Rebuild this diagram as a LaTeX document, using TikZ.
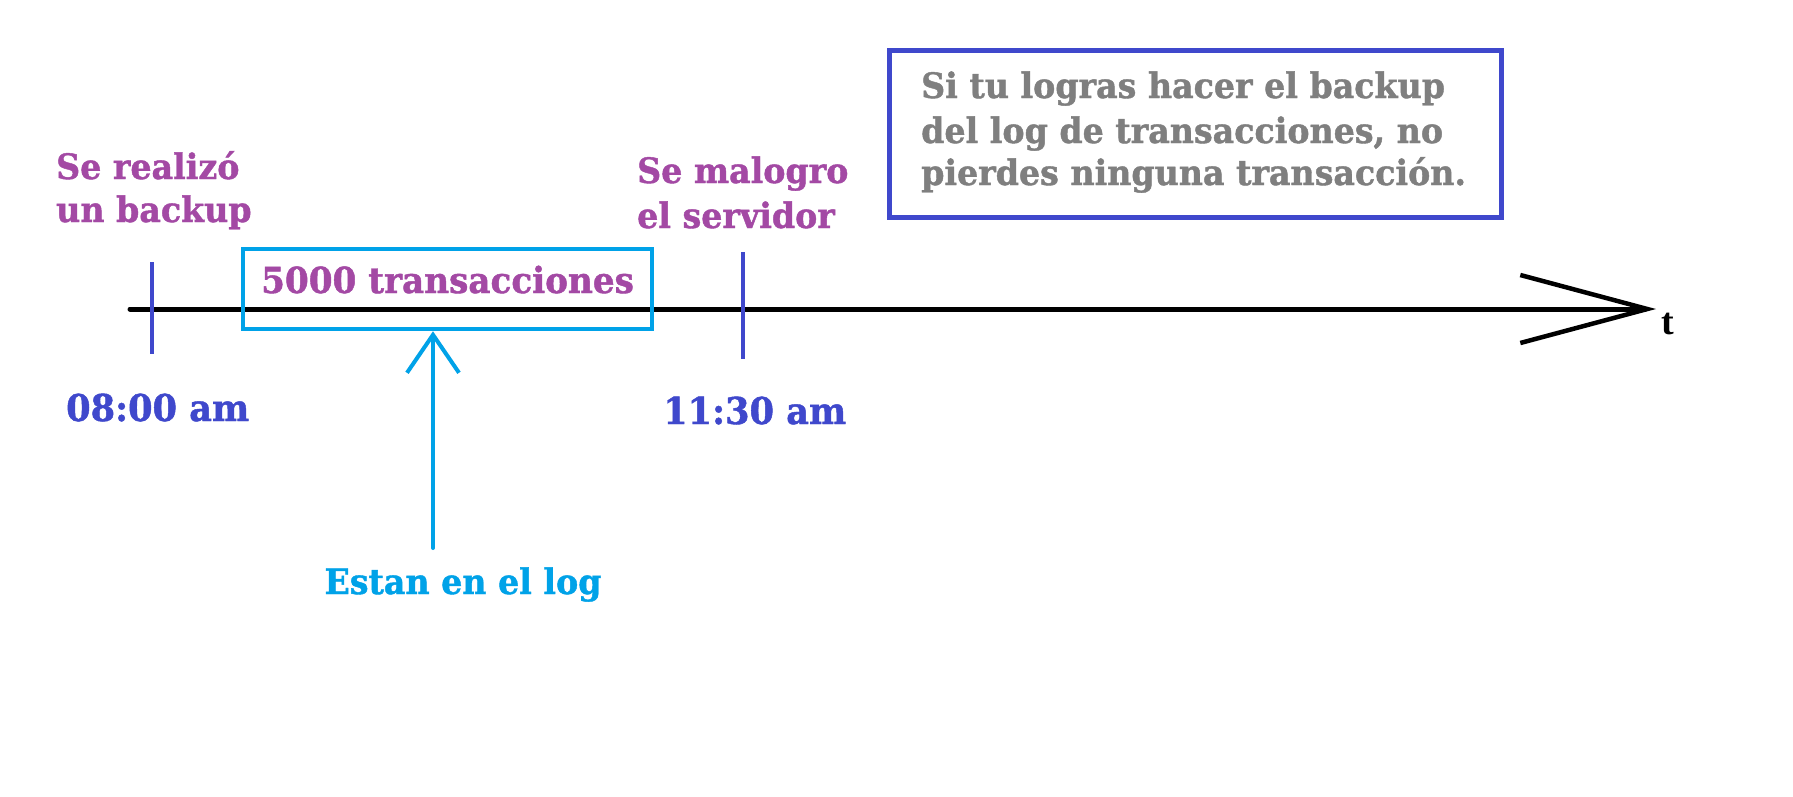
\documentclass[tikz,border=0pt]{standalone}
\usepackage{fontspec}
\setmainfont{DejaVu Serif}[FakeStretch=0.95, BoldFeatures={FakeBold=1.2}]
\newfontfamily\tfont{Liberation Serif}
\usetikzlibrary{arrows.meta}
\definecolor{mspurple}{HTML}{A349A4}
\definecolor{msblue}{HTML}{3F48CC}
\definecolor{mscyan}{HTML}{00A2E8}
\definecolor{msgrey}{HTML}{7F7F7F}
\begin{document}
\begin{tikzpicture}[x=1pt,y=-1pt,
  lbl/.style={inner sep=0pt, font=\bfseries\fontsize{35}{40}\selectfont},
  timelbl/.style={inner sep=0pt, text=msblue, font=\bfseries\fontsize{37}{42}\selectfont},
  notelbl/.style={inner sep=0pt, text=msgrey, font=\bfseries\fontsize{35}{40}\selectfont, anchor=base west},
  tickline/.style={draw=msblue, line width=3.5pt},
  axisline/.style={draw=black, line width=5pt, line cap=round, -{Straight Barb[length=127pt,width=68pt,line width=4.5pt]}},
  logarrow/.style={draw=mscyan, line width=4pt, line cap=round, -{Straight Barb[length=38pt,width=52pt]}}
]
\useasboundingbox (0,0) rectangle (1793,796);
\fill[white] (0,0) rectangle (1793,796);

% axis
\coordinate (axstart) at (130,309);
\coordinate (axend) at (1656,309);
\draw[axisline] (axstart) -- (axend);
\node[inner sep=0pt, anchor=base west, font=\tfont\bfseries\fontsize{38}{40}\selectfont] (t) at (1661,334) {t};

% ticks
\coordinate (tick1a) at (152,262);
\coordinate (tick1b) at (152,354);
\coordinate (tick2a) at (743,252);
\coordinate (tick2b) at (743,359);
\draw[tickline] (tick1a) -- (tick1b);
\draw[tickline] (tick2a) -- (tick2b);

% labels above
\node[lbl, text=mspurple, anchor=base west] (sr1) at (56,179) {Se realizó};
\node[lbl, text=mspurple, anchor=base west] (sr2) at (56,222) {un backup};
\node[lbl, text=mspurple, anchor=base west] (sm1) at (637,183) {Se malogro};
\node[lbl, text=mspurple, anchor=base west] (sm2) at (637,228) {el servidor};

% time labels
\node[timelbl, anchor=base west] (t1) at (66,421) {08:00 am};
\node[timelbl, anchor=base west] (t2) at (663,424) {11:30 am};

% transactions box
\node[draw=mscyan, line width=4.5pt, inner sep=0pt, minimum width=409pt,
      text height=44pt, text depth=36pt, text=mspurple,
      font=\bfseries\fontsize{36}{40}\selectfont] (tx) at (447.5,289) {5000 transacciones};

% log arrow
\coordinate (logtail) at (433,548);
\node[lbl, text=mscyan, anchor=base] (log) at (463,594) {Estan en el log};
\draw[logarrow] (logtail) -- (logtail |- tx.south);

% note box
\node[draw=msblue, line width=5pt, inner sep=0pt, minimum width=612pt, minimum height=167pt] (note) at (1195,133.5) {};
\node[notelbl] (n1) at (921,98) {Si tu logras hacer el backup};
\node[notelbl] (n2) at (921,143) {del log de transacciones, no};
\node[notelbl] (n3) at (921,185) {pierdes ninguna transacción.};
\end{tikzpicture}
\end{document}
